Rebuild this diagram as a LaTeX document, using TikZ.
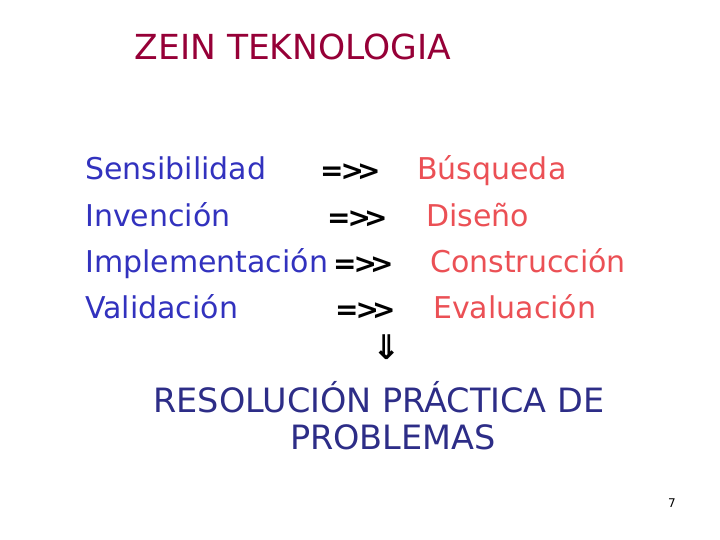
\documentclass[tikz,border=0pt]{standalone}
\usepackage{fontspec}
\setmainfont{DejaVu Sans}
\definecolor{titlered}{RGB}{150,0,55}
\definecolor{leftblue}{RGB}{50,50,190}
\definecolor{rightred}{RGB}{235,80,85}
\definecolor{darknavy}{RGB}{45,45,135}
\tikzset{
    lefttxt/.style={anchor=base west, inner sep=0pt, text=leftblue, font=\fontsize{30}{34}\selectfont},
    righttxt/.style={anchor=base west, inner sep=0pt, text=rightred, font=\fontsize{30}{34}\selectfont},
    arr/.style={anchor=base west, inner sep=0pt, font=\bfseries\fontsize{28}{30}\selectfont},
    bigtxt/.style={anchor=base, inner sep=0pt, text=darknavy, font=\fontsize{33.5}{37}\selectfont},
}
\newcommand{\dblarr}{=\kern-3pt>\kern-7pt>}
\begin{document}
\begin{tikzpicture}[x=1pt, y=-1pt]
    \useasboundingbox (0,0) rectangle (720,540);
    \node[anchor=base, inner sep=0pt, text=titlered, font=\fontsize{34.5}{38}\selectfont] (title) at (293,60) {ZEIN TEKNOLOGIA};
    % left column
    \node[lefttxt] (sens) at (85,180) {Sensibilidad};
    \node[lefttxt] (inv) at (85,226) {Invención};
    \node[lefttxt] (impl) at (85,272) {Implementación};
    \node[lefttxt] (val) at (85,318) {Validación};
    % arrows
    \node[arr] (a1) at (320,181) {\dblarr};
    \node[arr] (a2) at (327,227) {\dblarr};
    \node[arr] (a3) at (333,273) {\dblarr};
    \node[arr] (a4) at (335,319) {\dblarr};
    % right column
    \node[righttxt] (busq) at (417,180) {Búsqueda};
    \node[righttxt] (dis) at (426,226) {Diseño};
    \node[righttxt] (cons) at (430,272) {Construcción};
    \node[righttxt] (eval) at (433,318) {Evaluación};
    \node[inner sep=0pt, font=\bfseries\fontsize{34}{36}\selectfont] (down) at (387,347) {⇓};
    \node[bigtxt] (res1) at (379,412) {RESOLUCIÓN PRÁCTICA DE};
    \node[bigtxt] (res2) at (393,449) {PROBLEMAS};
    \node[inner sep=0pt, font=\fontsize{12}{14}\selectfont] (page) at (672,503) {7};
\end{tikzpicture}
\end{document}
